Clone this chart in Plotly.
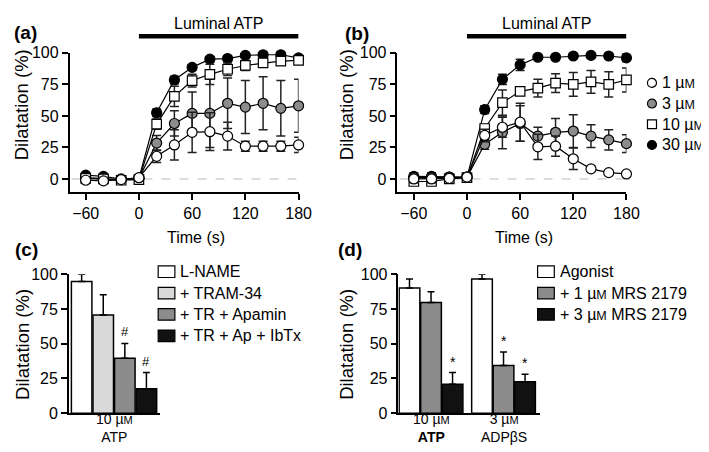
import plotly.graph_objects as go

# ---------------- data ----------------
time_s = [-60, -40, -20, 0, 20, 40, 60, 80, 100, 120, 140, 160, 180]

# panel (a)
a_1uM = [-1, -1.5, -0.5, 1, 18, 27, 37, 37.5, 34, 26, 26, 26, 27]
a_1uM_err = [1.5, 1.5, 1, 1, 5, 12, 16, 15, 11, 4, 4, 4, 6]
a_3uM = [1, 0.5, -0.5, 0.5, 28.5, 44, 52, 52, 60, 57, 60, 56, 58]
a_3uM_err = [1.5, 1.5, 1, 1, 6, 10, 17, 27, 20, 21, 21, 22, 21]
a_10uM = [0.5, 0, -1, -0.5, 43.5, 65.5, 78, 83, 87, 90, 92, 93.5, 94]
a_10uM_err = [1.5, 1.5, 1, 1, 4, 8, 5, 8, 5, 4, 3, 3, 2]
a_30uM = [3, 2, 0, 0.5, 52.5, 78.5, 88.5, 95, 95.5, 98, 98.5, 98.5, 96]
a_30uM_err = [1.5, 1.5, 1, 1, 3, 3, 2, 2, 2, 1, 1, 1, 1]

# panel (b)
b_1uM = [0, 0, 0.5, 1.5, 34.5, 41, 45, 25.5, 26, 16, 8, 5, 4]
b_1uM_err = [3, 3, 2, 1.5, 5, 8, 15, 10, 8, 8.5, 2, 1, 1]
b_3uM = [1, 1, 1.5, 1.5, 27.5, 37, 44, 34, 37, 38, 34, 31, 28]
b_3uM_err = [3, 3, 2, 1.5, 4, 13, 14, 7, 11, 13, 9, 8, 7]
b_10uM = [-2, -2, 0, 1, 40, 60.5, 69.5, 72, 76, 75, 77, 75, 78.5]
b_10uM_err = [3, 3, 2, 1.5, 3, 10, 3, 7, 7.5, 9.5, 9, 10, 9.5]
b_30uM = [2, 2, 1.5, 1.5, 55, 79, 90.5, 96.5, 96.5, 97.5, 98, 97.5, 96]
b_30uM_err = [3, 3, 2, 1.5, 3, 4, 4.5, 1, 1, 1, 1, 1, 3]

UM16 = 'µ<span style="font-size:12.5px">M</span>'
UM14 = 'µ<span style="font-size:11px">M</span>'
conc_labels = ["1 " + UM16, "3 " + UM16, "10 " + UM16, "30 " + UM16]

# panel (c)
c_labels = ["L-NAME", "+ TRAM-34", "+ TR + Apamin", "+ TR + Ap + IbTx"]
c_values = [94.7, 70.6, 39.6, 17.6]
c_err = [5.3, 14.6, 10.6, 11.6]
c_sig = ["", "", "#", "#"]
c_category = "10 " + UM14 + "<br>ATP"

# panel (d)
d_labels = ["Agonist", "+ 1 " + UM16 + " MRS 2179", "+ 3 " + UM16 + " MRS 2179"]
d_categories = ["10 " + UM14 + "<br><b>ATP</b>", "3 " + UM14 + "<br>ADPβS"]
d_values = [[90, 96.5], [79.6, 34.3], [20.8, 22.7]]
d_err = [[6.5, 3.5], [7.7, 9.7], [8.4, 5.3]]
d_sig = [["", ""], ["", "*"], ["*", "*"]]

# ---------------- helpers ----------------
W, H = 709, 452
FONT = "Liberation Sans, Arial, sans-serif"
GRAY = "#8c8c8c"


def px(x):
    return x / W


def py(y):
    return 1 - y / H


fig = go.Figure()

# ---------------- panels (a) and (b) ----------------
def add_time_series(xa, ya, series):
    for vals, err, sym, fill in series:
        fig.add_trace(go.Scatter(
            x=time_s, y=vals, mode="lines+markers", xaxis=xa, yaxis=ya,
            line=dict(color="black", width=1.2),
            marker=dict(symbol=sym, size=10 if sym == "circle" else 9.5, color=fill,
                        line=dict(color="black", width=1.2)),
            error_y=dict(type="data", array=err, visible=True, color="#222222",
                         thickness=1.5, width=4.5),
            cliponaxis=False, showlegend=False, hoverinfo="skip"))


add_time_series("x", "y", [
    (a_30uM, a_30uM_err, "circle", "black"),
    (a_3uM, a_3uM_err, "circle", GRAY),
    (a_10uM, a_10uM_err, "square", "white"),
    (a_1uM, a_1uM_err, "circle", "white"),
])
add_time_series("x2", "y2", [
    (b_30uM, b_30uM_err, "circle", "black"),
    (b_3uM, b_3uM_err, "circle", GRAY),
    (b_10uM, b_10uM_err, "square", "white"),
    (b_1uM, b_1uM_err, "circle", "white"),
])

# ---------------- panel (c) ----------------
c_colors = ["white", "#d9d9d9", GRAY, "#111111"]
c_w = 0.25
for i, (lab, v, e) in enumerate(zip(c_labels, c_values, c_err)):
    xpos = -0.5 + c_w * (i + 0.5)
    fig.add_trace(go.Bar(
        x=[xpos], y=[v], width=[c_w * 0.95], xaxis="x3", yaxis="y3",
        marker=dict(color=c_colors[i], line=dict(color="black", width=1.5)),
        error_y=dict(type="data", symmetric=False, array=[e], arrayminus=[0],
                     color="black", thickness=1.5, width=3.5),
        cliponaxis=False, showlegend=False, hoverinfo="skip", name=lab))

# ---------------- panel (d) ----------------
d_colors = ["white", GRAY, "#111111"]
d_w = 0.297
for i, lab in enumerate(d_labels):
    xs = [g + d_w * (i - 1) for g in range(len(d_categories))]
    fig.add_trace(go.Bar(
        x=xs, y=d_values[i], width=[d_w * 0.96] * len(xs), xaxis="x4", yaxis="y4",
        marker=dict(color=d_colors[i], line=dict(color="black", width=1.5)),
        error_y=dict(type="data", symmetric=False, array=d_err[i],
                     arrayminus=[0] * len(xs), color="black", thickness=1.5, width=3.5),
        cliponaxis=False, showlegend=False, hoverinfo="skip", name=lab))

# ---------------- axes ----------------
common = dict(showline=True, linecolor="black", linewidth=1.5, ticks="outside",
              ticklen=6, tickwidth=1.5, tickcolor="black", showgrid=False,
              zeroline=False, tickfont=dict(size=16, color="black", family=FONT))
ytop_dom = [py(182.7), py(38.3)]
ybot_dom = [py(412.7), py(268.3)]
yt = [0, 25, 50, 75, 100]

layout = dict(
    width=W, height=H, margin=dict(l=0, r=0, t=0, b=0),
    paper_bgcolor="white", plot_bgcolor="white", barmode="overlay",
    font=dict(family=FONT, color="black", size=16),
    xaxis=dict(domain=[px(62.7), px(296)], range=[-78.2, 180],
               tickvals=[-60, 0, 60, 120, 180], anchor="y", **common),
    yaxis=dict(domain=ytop_dom, range=[-10.2, 100], tickvals=yt, anchor="x", **common),
    xaxis2=dict(domain=[px(396.7), px(630)], range=[-78.5, 180],
                tickvals=[-60, 0, 60, 120, 180], anchor="y2", **common),
    yaxis2=dict(domain=ytop_dom, range=[-10.2, 100], tickvals=yt, anchor="x2", **common),
    xaxis3=dict(domain=[px(62), px(155)], range=[-0.523, 0.534], anchor="y3",
                showline=True, linecolor="black", linewidth=1.5, ticks="",
                showticklabels=False, showgrid=False, zeroline=False),
    yaxis3=dict(domain=ybot_dom, range=[0, 100], tickvals=yt, anchor="x3", **common),
    xaxis4=dict(domain=[px(397.7), px(541.7)], range=[-0.45, 1.5], anchor="y4",
                showline=True, linecolor="black", linewidth=1.5, ticks="",
                showticklabels=False, showgrid=False, zeroline=False),
    yaxis4=dict(domain=ybot_dom, range=[0, 100], tickvals=yt, anchor="x4", **common),
)
fig.update_layout(**layout)

shapes = []
annotations = []


def ann(text, x, y, size=16, xanchor="center", yanchor="middle", xref="paper",
        yref="paper", **kw):
    annotations.append(dict(text=text, x=x, y=y, xref=xref, yref=yref,
                            xanchor=xanchor, yanchor=yanchor, showarrow=False,
                            font=dict(size=size, color="black", family=FONT), **kw))


# zero dashed lines + Luminal ATP bars
for xr, yr in [("x", "y"), ("x2", "y2")]:
    shapes.append(dict(type="line", xref=xr, yref=yr, x0=-76, x1=180, y0=0, y1=0,
                       line=dict(color="#bbbbbb", width=1, dash="dash"), layer="below"))
    shapes.append(dict(type="line", xref=xr, yref="paper", x0=0, x1=180,
                       y0=py(21), y1=py(21), line=dict(color="black", width=4.5)))
    ann("Luminal ATP", 90, py(8), size=16, xref=xr)
    ann("Time (s)", 64, py(230), size=16, xref=xr)

# panel labels
ann("<b>(a)</b>", px(4), py(17), size=19, xanchor="left")
ann("<b>(b)</b>", px(341), py(18), size=19, xanchor="left")
ann("<b>(c)</b>", px(5), py(243), size=19, xanchor="left")
ann("<b>(d)</b>", px(334), py(243), size=19, xanchor="left")

# y titles
for xc, yc in [(14, 92), (345, 92), (14, 341), (344, 341)]:
    ann("Dilatation (%)", px(xc), py(yc), size=18.5, textangle=-90)

# legend (b)
leg_b = [("circle", "white"), ("circle", GRAY), ("square", "white"), ("circle", "black")]
for i, ((kind, fill), lab) in enumerate(zip(leg_b, conc_labels)):
    cy = 69.5 + 21.5 * i
    cx, r = 656, 4.6
    shapes.append(dict(type="circle" if kind == "circle" else "rect", xref="paper", yref="paper",
                       x0=px(cx - r), x1=px(cx + r), y0=py(cy + r), y1=py(cy - r),
                       fillcolor=fill, line=dict(color="black", width=1.2)))
    ann(lab, px(664), py(cy), size=16, xanchor="left")

# legend (c)
for i, lab in enumerate(c_labels):
    cy = 265.7 + 22.2 * i
    shapes.append(dict(type="rect", xref="paper", yref="paper",
                       x0=px(153), x1=px(170), y0=py(cy + 6), y1=py(cy - 6),
                       fillcolor=c_colors[i], line=dict(color="black", width=1.2)))
    ann(lab, px(173.5), py(cy), size=16, xanchor="left")

# legend (d)
for i, lab in enumerate(d_labels):
    cy = 265.7 + 22.2 * i
    shapes.append(dict(type="rect", xref="paper", yref="paper",
                       x0=px(539.5), x1=px(556.5), y0=py(cy + 6), y1=py(cy - 6),
                       fillcolor=d_colors[i], line=dict(color="black", width=1.2)))
    ann(lab, px(560.5), py(cy), size=16, xanchor="left")

# category labels (two-line)
ann(c_category, 0, py(428), size=14, xref="x3")
for g, cat in enumerate(d_categories):
    ann(cat, g, py(428), size=14, xref="x4")

# significance marks
for i in range(len(c_values)):
    if c_sig[i]:
        ann(c_sig[i], -0.5 + c_w * (i + 0.5), c_values[i] + c_err[i], size=13,
            xref="x3", yref="y3", yanchor="bottom", yshift=2)
for i in range(len(d_labels)):
    for g in range(len(d_categories)):
        if d_sig[i][g]:
            ann(d_sig[i][g], g + d_w * (i - 1), d_values[i][g] + d_err[i][g], size=14,
                xref="x4", yref="y4", yanchor="bottom", yshift=1)

fig.update_layout(shapes=shapes, annotations=annotations)
fig.write_html("out.html")
